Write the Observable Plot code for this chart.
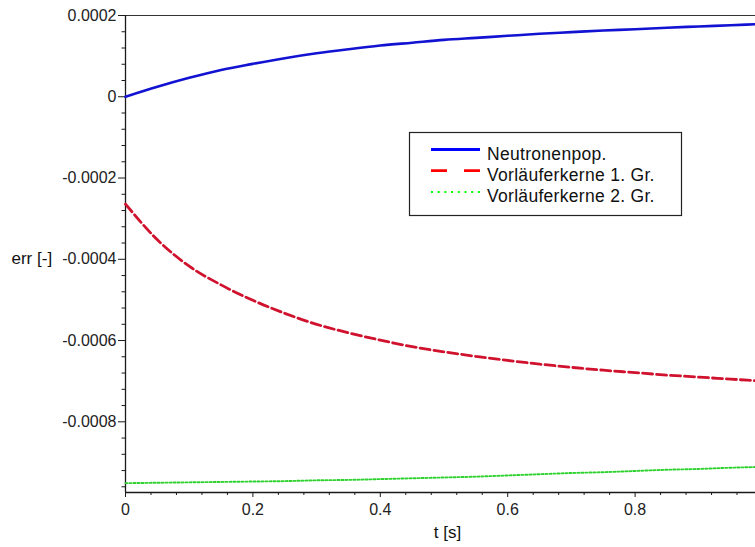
<!DOCTYPE html>
<html><head><meta charset="utf-8">
<script src="https://cdn.jsdelivr.net/npm/d3@7"></script>
<script src="https://cdn.jsdelivr.net/npm/@observablehq/plot@0.6"></script>
<style>
html,body{margin:0;padding:0;background:#fff;overflow:hidden;}
#wrap{position:relative;width:755px;height:547px;overflow:hidden;}
#wrap svg.legend{position:absolute;left:0;top:0;pointer-events:none;}
</style></head><body><div id="wrap"></div>
<script>
// ---- data ----
const t = [0,0.05,0.1,0.15,0.2,0.25,0.3,0.35,0.4,0.45,0.5,0.55,0.6,0.65,0.7,0.75,0.8,0.85,0.9,0.95,1.0];
const neutronenpop = [0,0.0000245,0.0000465,0.0000660,0.0000810,0.0000950,0.000107,0.000117,0.000126,0.000133,0.000140,0.000145,0.000150,0.000155,0.000159,0.000163,0.000166,0.000170,0.000173,0.000176,0.000179];
const vorlaeufer1 = [-0.000264,-0.000352,-0.000417,-0.000463,-0.000501,-0.000533,-0.000560,-0.000581,-0.000599,-0.000615,-0.000628,-0.000639,-0.000649,-0.000658,-0.000666,-0.000673,-0.000679,-0.000685,-0.000690,-0.000695,-0.000700];
const vorlaeufer2 = [-0.000951,-0.000950,-0.000949,-0.000948,-0.000947,-0.000946,-0.000944,-0.000943,-0.000941,-0.000939,-0.000937,-0.000935,-0.000932,-0.000929,-0.000926,-0.000924,-0.000921,-0.000918,-0.000916,-0.000913,-0.000911];
const seriesNames = ["Neutronenpop.", "Vorläuferkerne 1. Gr.", "Vorläuferkerne 2. Gr."];
const xMajor = [0, 0.2, 0.4, 0.6, 0.8];
const xTickLabels = ["0", "0.2", "0.4", "0.6", "0.8"];
const xMinor = [0.04,0.08,0.12,0.16,0.24,0.28,0.32,0.36,0.44,0.48,0.52,0.56,0.64,0.68,0.72,0.76,0.84,0.88,0.92,0.96];
const yMajor = [0.0002, 0, -0.0002, -0.0004, -0.0006, -0.0008];
const yTickLabels = ["0.0002", "0", "-0.0002", "-0.0004", "-0.0006", "-0.0008"];
const yMinor = [0.00016,0.00012,0.00008,0.00004,-0.00004,-0.00008,-0.00012,-0.00016,-0.00024,-0.00028,-0.00032,-0.00036,-0.00044,-0.00048,-0.00052,-0.00056,-0.00064,-0.00068,-0.00072,-0.00076,-0.00084,-0.00088,-0.00092,-0.00096];
const xDomain = [0, 1];
const yDomain = [-0.000974, 0.0002];
const xLabel = "t [s]";
const yLabel = "err [-]";

// ---- styles ----
const colors = ["#1212d2", "#d0122e", "#2ed22e"];
const legendColors = ["#0000ff", "#ff0000", "#00ff00"];
const dashes = [null, "10,4", "2,2"];
const legendDashes = [null, "16,17", "2,4.7"];
const widths = [2.6, 2.8, 1.9];
const series = [neutronenpop, vorlaeufer1, vorlaeufer2];
const rows = series.map(vals => t.map((ti, i) => ({t: ti, v: vals[i]})));

const axisColor = "#1a1a1a";
const chart = Plot.plot({
  width: 755, height: 547,
  marginLeft: 125, marginRight: -7, marginTop: 15, marginBottom: 55,
  style: {fontFamily: "'Liberation Sans', Arial, sans-serif", fontSize: "16px", background: "white", color: "#222"},
  x: {domain: xDomain, label: null},
  y: {domain: yDomain, label: null},
  marks: [
    Plot.ruleY([yDomain[1]], {stroke: "#333", strokeWidth: 1.2}),
    Plot.ruleY([yDomain[0]], {stroke: axisColor, strokeWidth: 1.3}),
    Plot.ruleX([xDomain[0]], {stroke: axisColor, strokeWidth: 1.3}),
    Plot.axisY({ticks: yMajor, tickSize: 7, tickPadding: 2, tickFormat: d => yTickLabels[yMajor.indexOf(d)], label: null, stroke: axisColor}),
    Plot.axisY({ticks: yMinor, tickSize: 3.5, tickFormat: () => "", label: null, stroke: axisColor}),
    Plot.axisX({ticks: xMajor, tickSize: 5, tickPadding: 6, tickFormat: d => xTickLabels[xMajor.indexOf(d)], label: null, stroke: axisColor}),
    Plot.axisX({ticks: xMinor, tickSize: 3, tickFormat: () => "", label: null, stroke: axisColor}),
    ...rows.map((r, k) => Plot.line(r, {x: "t", y: "v", curve: "monotone-x", stroke: colors[k], strokeWidth: widths[k], strokeDasharray: dashes[k]})),
    Plot.text([yLabel], {frameAnchor: "left", textAnchor: "start", dx: -114, dy: 4.5, fontSize: 17, fill: "#111"}),
    Plot.text([xLabel], {frameAnchor: "bottom", dx: 3.5, dy: 45.5, fontSize: 17, fill: "#111"})
  ]
});
const wrap = document.getElementById("wrap");
wrap.appendChild(chart);

// ---- legend overlay ----
const ns = "http://www.w3.org/2000/svg";
const lg = document.createElementNS(ns, "svg");
lg.setAttribute("class", "legend");
lg.setAttribute("width", 755); lg.setAttribute("height", 547);
const box = document.createElementNS(ns, "rect");
Object.entries({x: 409.5, y: 132.5, width: 272, height: 83, fill: "white", stroke: "#222", "stroke-width": 1.2}).forEach(([k, v]) => box.setAttribute(k, v));
lg.appendChild(box);
seriesNames.forEach((name, k) => {
  const ly = 149.5 + k * 21.2;
  const ln = document.createElementNS(ns, "line");
  Object.entries({x1: 431, x2: 480, y1: ly, y2: ly, stroke: legendColors[k], "stroke-width": k === 2 ? 2 : 2.8}).forEach(([a, v]) => ln.setAttribute(a, v));
  if (legendDashes[k]) ln.setAttribute("stroke-dasharray", legendDashes[k]);
  lg.appendChild(ln);
  const tx = document.createElementNS(ns, "text");
  tx.setAttribute("x", 487); tx.setAttribute("y", ly + 10);
  tx.setAttribute("font-family", "'Liberation Sans', Arial, sans-serif");
  tx.setAttribute("font-size", "17.5px");
  tx.setAttribute("letter-spacing", "0.3px");
  tx.setAttribute("fill", "#111");
  tx.textContent = name;
  lg.appendChild(tx);
});
wrap.appendChild(lg);
</script>
</body></html>
